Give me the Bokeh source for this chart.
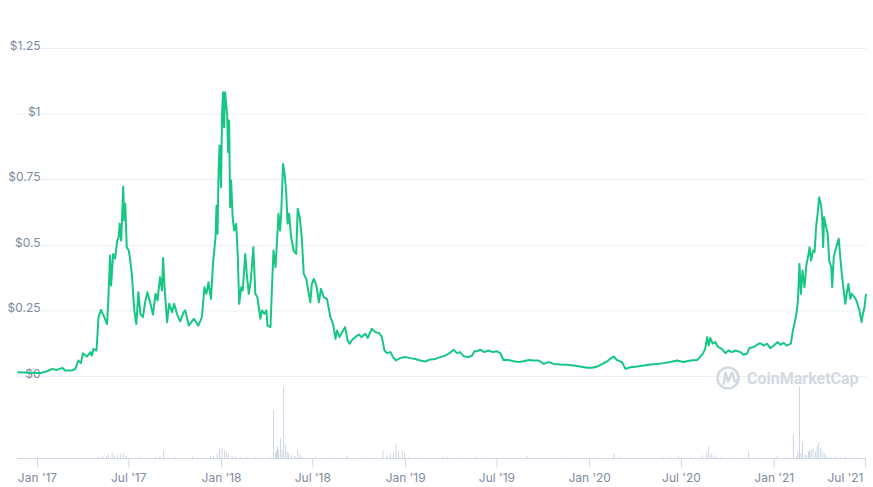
import math
import pandas as pd
from bokeh.plotting import figure
from bokeh.models import Range1d
from bokeh.core.properties import value
from bokeh.embed import file_html
from bokeh.resources import INLINE

# ---------------- data ----------------
price_dates = [
    "2016-11-22", "2016-12-18", "2017-01-07", "2017-01-20", "2017-01-30", "2017-02-09", "2017-02-19", "2017-02-25",
    "2017-03-10", "2017-03-17", "2017-03-23", "2017-03-28", "2017-04-01", "2017-04-09", "2017-04-16", "2017-04-19",
    "2017-04-22", "2017-04-28", "2017-05-02", "2017-05-07", "2017-05-12", "2017-05-19", "2017-05-22", "2017-05-25",
    "2017-05-27", "2017-05-31", "2017-06-04", "2017-06-08", "2017-06-11", "2017-06-13", "2017-06-16", "2017-06-20",
    "2017-06-22", "2017-06-24", "2017-06-27", "2017-07-01", "2017-07-04", "2017-07-07", "2017-07-12", "2017-07-16",
    "2017-07-20", "2017-07-24", "2017-07-29", "2017-08-03", "2017-08-07", "2017-08-13", "2017-08-18", "2017-08-23",
    "2017-08-27", "2017-09-01", "2017-09-05", "2017-09-07", "2017-09-10", "2017-09-15", "2017-09-19", "2017-09-25",
    "2017-09-29", "2017-10-05", "2017-10-11", "2017-10-18", "2017-10-21", "2017-10-28", "2017-11-07", "2017-11-16",
    "2017-11-23", "2017-11-28", "2017-12-02", "2017-12-06", "2017-12-11", "2017-12-15", "2017-12-20", "2017-12-22",
    "2017-12-24", "2017-12-26", "2017-12-28", "2017-12-31", "2018-01-02", "2018-01-04", "2018-01-06", "2018-01-08",
    "2018-01-12", "2018-01-14", "2018-01-16", "2018-01-18", "2018-01-20", "2018-01-23", "2018-01-26", "2018-01-30",
    "2018-02-02", "2018-02-05", "2018-02-09", "2018-02-12", "2018-02-17", "2018-02-20", "2018-02-24", "2018-02-28",
    "2018-03-05", "2018-03-09", "2018-03-13", "2018-03-19", "2018-03-22", "2018-03-27", "2018-03-31", "2018-04-02",
    "2018-04-08", "2018-04-11", "2018-04-14", "2018-04-18", "2018-04-21", "2018-04-24", "2018-04-27", "2018-04-29",
    "2018-05-03", "2018-05-06", "2018-05-09", "2018-05-12", "2018-05-15", "2018-05-19", "2018-05-24", "2018-05-29",
    "2018-06-01", "2018-06-05", "2018-06-09", "2018-06-13", "2018-06-18", "2018-06-23", "2018-06-26", "2018-06-29",
    "2018-07-03", "2018-07-08", "2018-07-13", "2018-07-17", "2018-07-23", "2018-07-29", "2018-08-05", "2018-08-10",
    "2018-08-15", "2018-08-18", "2018-08-23", "2018-08-28", "2018-09-03", "2018-09-08", "2018-09-12", "2018-09-17",
    "2018-09-23", "2018-09-30", "2018-10-06", "2018-10-13", "2018-10-18", "2018-10-26", "2018-11-02", "2018-11-10",
    "2018-11-15", "2018-11-20", "2018-11-25", "2018-12-02", "2018-12-07", "2018-12-13", "2018-12-21", "2018-12-31",
    "2019-01-10", "2019-01-20", "2019-01-30", "2019-02-09", "2019-02-19", "2019-03-01", "2019-03-11", "2019-03-21",
    "2019-03-29", "2019-04-06", "2019-04-13", "2019-04-19", "2019-04-27", "2019-05-06", "2019-05-13", "2019-05-17",
    "2019-05-22", "2019-05-29", "2019-06-06", "2019-06-14", "2019-06-23", "2019-07-01", "2019-07-08", "2019-07-14",
    "2019-07-24", "2019-08-03", "2019-08-13", "2019-08-23", "2019-09-02", "2019-09-12", "2019-09-22", "2019-10-02",
    "2019-10-12", "2019-10-22", "2019-11-04", "2019-11-17", "2019-11-30", "2019-12-13", "2019-12-27", "2020-01-06",
    "2020-01-16", "2020-01-26", "2020-02-05", "2020-02-13", "2020-02-18", "2020-02-24", "2020-03-05", "2020-03-12",
    "2020-03-22", "2020-04-04", "2020-04-17", "2020-04-30", "2020-05-13", "2020-05-27", "2020-06-09", "2020-06-22",
    "2020-07-05", "2020-07-19", "2020-08-01", "2020-08-07", "2020-08-13", "2020-08-17", "2020-08-21", "2020-08-24",
    "2020-08-27", "2020-09-01", "2020-09-06", "2020-09-12", "2020-09-19", "2020-09-26", "2020-10-02", "2020-10-09",
    "2020-10-16", "2020-10-26", "2020-11-01", "2020-11-08", "2020-11-13", "2020-11-21", "2020-11-28", "2020-12-04",
    "2020-12-11", "2020-12-18", "2020-12-24", "2020-12-31", "2021-01-08", "2021-01-13", "2021-01-20", "2021-01-26",
    "2021-02-03", "2021-02-07", "2021-02-10", "2021-02-14", "2021-02-17", "2021-02-20", "2021-02-23", "2021-02-26",
    "2021-03-02", "2021-03-06", "2021-03-09", "2021-03-12", "2021-03-15", "2021-03-19", "2021-03-22", "2021-03-25",
    "2021-03-28", "2021-03-31", "2021-04-04", "2021-04-06", "2021-04-08", "2021-04-10", "2021-04-14", "2021-04-17",
    "2021-04-20", "2021-04-24", "2021-04-26", "2021-04-29", "2021-05-02", "2021-05-05", "2021-05-09", "2021-05-12",
    "2021-05-15", "2021-05-18", "2021-05-22", "2021-05-25", "2021-05-28", "2021-06-01", "2021-06-04", "2021-06-09",
    "2021-06-13", "2021-06-16", "2021-06-19", "2021-06-23", "2021-06-26", "2021-06-29", "2021-07-02",
]
price_values = [
    0.016, 0.014, 0.013, 0.020, 0.029, 0.025, 0.033, 0.023,
    0.023, 0.029, 0.061, 0.051, 0.089, 0.076, 0.093, 0.080,
    0.105, 0.099, 0.226, 0.254, 0.232, 0.200, 0.315, 0.461,
    0.347, 0.467, 0.449, 0.518, 0.531, 0.582, 0.518, 0.724,
    0.595, 0.658, 0.493, 0.480, 0.442, 0.391, 0.252, 0.200,
    0.321, 0.239, 0.226, 0.290, 0.321, 0.277, 0.236, 0.315,
    0.290, 0.378, 0.328, 0.452, 0.340, 0.207, 0.277, 0.245,
    0.277, 0.236, 0.210, 0.245, 0.252, 0.194, 0.220, 0.194,
    0.226, 0.340, 0.315, 0.359, 0.296, 0.429, 0.531, 0.652,
    0.544, 0.772, 0.880, 0.721, 1.001, 1.083, 0.950, 1.083,
    1.000, 0.855, 0.976, 0.645, 0.747, 0.607, 0.556, 0.582,
    0.467, 0.277, 0.340, 0.328, 0.467, 0.391, 0.315, 0.366,
    0.493, 0.315, 0.302, 0.220, 0.252, 0.239, 0.252, 0.194,
    0.188, 0.340, 0.480, 0.417, 0.518, 0.620, 0.556, 0.607,
    0.810, 0.772, 0.709, 0.582, 0.620, 0.531, 0.480, 0.467,
    0.639, 0.607, 0.531, 0.391, 0.372, 0.315, 0.283, 0.353,
    0.372, 0.347, 0.283, 0.334, 0.302, 0.296, 0.226, 0.200,
    0.144, 0.175, 0.150, 0.169, 0.188, 0.137, 0.125, 0.140,
    0.150, 0.160, 0.150, 0.163, 0.147, 0.182, 0.169, 0.165,
    0.150, 0.099, 0.089, 0.093, 0.074, 0.061, 0.070, 0.074,
    0.070, 0.067, 0.061, 0.057, 0.065, 0.067, 0.074, 0.080,
    0.089, 0.102, 0.089, 0.093, 0.076, 0.074, 0.080, 0.096,
    0.096, 0.102, 0.093, 0.099, 0.093, 0.096, 0.089, 0.063,
    0.063, 0.058, 0.055, 0.058, 0.063, 0.061, 0.061, 0.048,
    0.055, 0.048, 0.046, 0.045, 0.042, 0.038, 0.033, 0.033,
    0.038, 0.048, 0.058, 0.071, 0.076, 0.063, 0.055, 0.029,
    0.035, 0.038, 0.042, 0.046, 0.048, 0.051, 0.055, 0.061,
    0.055, 0.061, 0.063, 0.074, 0.089, 0.105, 0.150, 0.118,
    0.147, 0.125, 0.131, 0.112, 0.105, 0.089, 0.099, 0.093,
    0.099, 0.093, 0.083, 0.087, 0.109, 0.112, 0.121, 0.127,
    0.118, 0.125, 0.108, 0.118, 0.131, 0.121, 0.128, 0.118,
    0.125, 0.175, 0.200, 0.239, 0.290, 0.429, 0.315, 0.404,
    0.340, 0.429, 0.455, 0.493, 0.442, 0.480, 0.474, 0.569,
    0.620, 0.683, 0.652, 0.607, 0.493, 0.607, 0.569, 0.544,
    0.442, 0.417, 0.340, 0.455, 0.480, 0.499, 0.525, 0.455,
    0.391, 0.340, 0.277, 0.321, 0.353, 0.296, 0.315, 0.302,
    0.290, 0.270, 0.252, 0.207, 0.239, 0.264, 0.315,
]

vol_dates = [
    "2017-05-02", "2017-05-10", "2017-05-18", "2017-05-22", "2017-05-29", "2017-06-03", "2017-06-09", "2017-06-15",
    "2017-06-21", "2017-06-26", "2017-07-24", "2017-08-23", "2017-09-01", "2017-09-08", "2017-10-02", "2017-11-04",
    "2017-11-30", "2017-12-10", "2017-12-16", "2017-12-23", "2017-12-28", "2018-01-02", "2018-01-07", "2018-01-11",
    "2018-01-15", "2018-01-22", "2018-01-29", "2018-02-08", "2018-02-19", "2018-03-09", "2018-03-23", "2018-04-08",
    "2018-04-14", "2018-04-18", "2018-04-20", "2018-04-22", "2018-04-24", "2018-04-28", "2018-05-01", "2018-05-04",
    "2018-05-08", "2018-05-11", "2018-05-14", "2018-05-20", "2018-05-26", "2018-06-01", "2018-06-05", "2018-06-10",
    "2018-07-06", "2018-08-05", "2018-09-07", "2018-10-03", "2018-11-17", "2018-11-25", "2018-12-02", "2018-12-08",
    "2018-12-13", "2018-12-18", "2018-12-25", "2018-12-30", "2019-01-07", "2019-01-30", "2019-03-17", "2019-03-24",
    "2019-04-20", "2019-05-22", "2019-06-07", "2019-08-30", "2019-11-04", "2020-01-21", "2020-02-18", "2020-03-02",
    "2020-05-26", "2020-06-09", "2020-06-25", "2020-07-19", "2020-08-11", "2020-08-20", "2020-08-24", "2020-08-29",
    "2020-09-03", "2020-09-08", "2020-09-16", "2020-10-16", "2020-11-11", "2020-11-28", "2021-01-07", "2021-01-23",
    "2021-02-08", "2021-02-15", "2021-02-17", "2021-02-20", "2021-02-23", "2021-02-26", "2021-03-03", "2021-03-06",
    "2021-03-10", "2021-03-12", "2021-03-15", "2021-03-19", "2021-03-24", "2021-03-27", "2021-03-30", "2021-04-03",
    "2021-04-07", "2021-04-11", "2021-04-15", "2021-04-22", "2021-05-02", "2021-05-12", "2021-05-22", "2021-06-01",
    "2021-06-15",
]
vol_values = [
    20, 30, 25, 40, 67, 30, 40, 45,
    50, 25, 15, 20, 25, 77, 15, 20,
    15, 25, 30, 47, 103, 103, 80, 60,
    37, 27, 20, 15, 15, 15, 12, 15,
    487, 60, 87, 120, 90, 200, 87, 713,
    150, 70, 50, 30, 25, 93, 40, 20,
    15, 12, 23, 10, 77, 33, 50, 67,
    150, 77, 77, 57, 15, 10, 17, 17,
    10, 17, 13, 23, 10, 10, 50, 15,
    13, 15, 27, 15, 33, 67, 123, 50,
    33, 20, 15, 10, 67, 13, 23, 12,
    240, 33, 70, 725, 53, 165, 33, 37,
    67, 80, 90, 103, 70, 120, 160, 103,
    70, 47, 30, 17, 17, 15, 17, 13,
    12,
]

x_tick_dates = ["2017-01-01", "2017-07-01", "2018-01-01", "2018-07-01", "2019-01-01",
                "2019-07-01", "2020-01-01", "2020-07-01", "2021-01-01", "2021-07-01"]
x_tick_labels = ["Jan '17", "Jul '17", "Jan '18", "Jul '18", "Jan '19",
                 "Jul '19", "Jan '20", "Jul '20", "Jan '21", "Jul '21"]
y_tick_values = [0, 0.25, 0.5, 0.75, 1.0, 1.25]
y_tick_labels = ["$0", "$0.25", "$0.5", "$0.75", "$1", "$1.25"]

# ---------------- styling / layout ----------------
W, H = 873, 487
LINE = "#16c784"
GRID = "#eceff3"
VOL = "#cfd6e4"
LABEL = "#808a9d"
MARK = "#d3d8e1"
FONT = "Inter"

px = pd.to_datetime(price_dates)
vx = pd.to_datetime(vol_dates)
tx = pd.to_datetime(x_tick_dates)

x_start = pd.Timestamp("2016-10-19 15:00")
x_end = pd.Timestamp("2021-07-16 20:40")
y_start, y_end = -0.4230, 1.4329

p = figure(width=W, height=H, x_axis_type="datetime",
           x_axis_location=None, y_axis_location=None,
           x_range=Range1d(x_start, x_end), y_range=Range1d(y_start, y_end),
           output_backend="svg", toolbar_location=None, min_border=0,
           background_fill_color="white", border_fill_color="white")
p.outline_line_color = None
for g in p.grid:
    g.visible = False
p.extra_y_ranges = {"vol": Range1d(-290, 4580)}


def sx(pix):
    """canvas pixel (from left) -> x data value"""
    return x_start + (x_end - x_start) * (pix / W)


def sy(pix):
    """canvas pixel (from top) -> price-axis value"""
    return y_end - (y_end - y_start) * (pix / H)


# horizontal grid lines
n = len(y_tick_values)
p.segment(x0=[px[0]] * n, x1=[px[-1]] * n, y0=y_tick_values, y1=y_tick_values,
          line_color=GRID, line_width=1)

# y tick labels (above the grid lines)
p.text(x=[x_start] * n, y=y_tick_values, text=y_tick_labels,
       x_offset=40, y_offset=-3, text_align="right", text_baseline="alphabetic",
       text_font=value(FONT), text_font_size="12px", text_color=LABEL)

# watermark
p.scatter(x=[sx(727.5)], y=[sy(377.5)], marker="circle", size=21,
          fill_color=None, line_color=MARK, line_width=2.5)
p.line(x=[sx(723.3), sx(725.0), sx(727.7), sx(731.7), sx(734.3), sx(737.7)],
       y=[sy(383.3), sy(372.3), sy(381.0), sy(372.3), sy(381.0), sy(379.0)],
       line_color=MARK, line_width=2.5, line_join="round", line_cap="round")
p.text(x=[sx(746.5)], y=[sy(377.8)], text=["CoinMarketCap"],
       text_align="left", text_baseline="middle",
       text_font=value("Roboto"), text_font_style="bold", text_font_size="16px",
       text_color=MARK)

# volume bars
p.vbar(x=vx, top=vol_values, bottom=0, width=2 * 86400000, y_range_name="vol",
       fill_color=VOL, line_color=None)
p.segment(x0=[px[0]], x1=[px[-1]], y0=[0], y1=[0], y_range_name="vol",
          line_color=VOL, line_width=1)

# x ticks and labels
p.ray(x=tx, y=[0] * len(tx), length=9, length_units="screen", angle=-math.pi / 2,
      y_range_name="vol", line_color=VOL, line_width=1)
p.text(x=tx[:-1], y=[0] * (len(tx) - 1), text=x_tick_labels[:-1], y_range_name="vol",
       y_offset=19, text_align="center", text_baseline="alphabetic",
       text_font=value(FONT), text_font_size="12px", text_color=LABEL)
p.text(x=tx[-1:], y=[0], text=x_tick_labels[-1:], y_range_name="vol",
       x_offset=-2, y_offset=19, text_align="right", text_baseline="alphabetic",
       text_font=value(FONT), text_font_size="12px", text_color=LABEL)

# price line
p.line(x=px, y=price_values, line_color=LINE, line_width=2, line_join="round")

open("out.html", "w").write(file_html(p, INLINE))
